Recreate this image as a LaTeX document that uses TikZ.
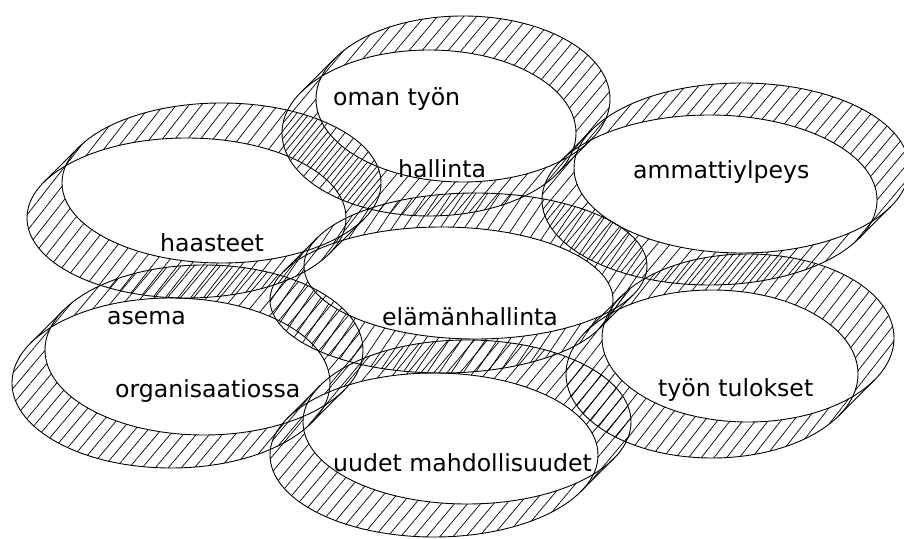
\documentclass[tikz,border=0pt]{standalone}
\usepackage{fontspec}
\setmainfont{DejaVu Sans}
\usetikzlibrary{patterns.meta}
\tikzset{
  ringline/.style={line width=0.9pt, black},
  lbl/.style={anchor=base west, inner sep=0pt, font=\fontsize{23.6}{28}\selectfont}
}
% #1 cx, #2 cy (pixels, y downward), #3 a, #4 b, #5 offset d, #6 hatch options
\newcommand\hring[6]{%
  \pgfmathsetmacro\rcx{#1}%
  \pgfmathsetmacro\rcy{538-#2}%
  \pgfmathsetmacro\ral{atan(#4/#3)}%
  \pgfmathsetmacro\ralb{180-\ral}%
  \pgfmathsetmacro\ralc{360-\ral}%
  \pgfmathsetmacro\ralm{-\ral}%
  \pgfmathsetmacro\rRp{sqrt((#3/100)^2+(#4/100)^2)/((#3/100)*(#4/100))}%
  \pgfmathsetmacro\rdel{acos(#5*\rRp/200)}%
  \pgfmathsetmacro\rphi{atan(#3/#4)}%
  \pgfmathsetmacro\rta{\rphi-\rdel}%
  \pgfmathsetmacro\rtb{\rphi+\rdel}%
  \pgfmathsetmacro\rtc{\rta+180}%
  \pgfmathsetmacro\rtd{\rtb+180}%
  \pgfmathsetmacro\rpx{\rcx+#3*cos(\ral)}%
  \pgfmathsetmacro\rpy{\rcy-#4*sin(\ral)}%
  \pgfmathsetmacro\rqx{\rcx-#3*cos(\ral)}%
  \pgfmathsetmacro\rqy{\rcy+#4*sin(\ral)}%
  \pgfmathsetmacro\rlx{\rcx+#3*cos(\rta)}%
  \pgfmathsetmacro\rly{\rcy+#4*sin(\rta)}%
  \pgfmathsetmacro\rbx{\rcx+#5}%
  \pgfmathsetmacro\rby{\rcy+#5}%
  \fill[pattern={Lines[#6]}, even odd rule]
    (\rpx,\rpy) -- ++(#5,#5)
    arc[start angle=\ralm, end angle=\ralb, x radius=#3, y radius=#4]
    -- ++(-#5,-#5)
    arc[start angle=\ralb, end angle=\ralc, x radius=#3, y radius=#4] -- cycle
    (\rlx,\rly)
    arc[start angle=\rta, end angle=\rtb, x radius=#3, y radius=#4]
    arc[start angle=\rtc, end angle=\rtd, x radius=#3, y radius=#4] -- cycle;
  \draw[ringline] (\rcx,\rcy) ellipse[x radius=#3, y radius=#4];
  \draw[ringline] (\rbx,\rby) ellipse[x radius=#3, y radius=#4];
  \draw[ringline] (\rpx,\rpy) -- ++(#5,#5);
  \draw[ringline] (\rqx,\rqy) -- ++(#5,#5);
}
\begin{document}
\begin{tikzpicture}[x=1pt,y=1pt]
\useasboundingbox (0,0) rectangle (904,538);
\fill[white] (0,0) rectangle (904,538);
\hring{429}{133}{147}{83}{34}{angle=50,distance=10pt,line width=0.7pt}
\hring{186.5}{218}{159.5}{80}{35}{angle=52,distance=10pt,line width=0.7pt,xshift=3pt}
\hring{709.5}{200}{167.5}{85}{32}{angle=50,distance=10pt,line width=0.7pt,xshift=6pt}
\hring{441.5}{300}{171.5}{73}{34}{angle=56,distance=10pt,line width=0.7pt,xshift=2pt}
\hring{171}{383}{159}{85}{33}{angle=50,distance=10pt,line width=0.7pt,xshift=5pt}
\hring{434}{455}{164}{82}{33}{angle=50,distance=10pt,line width=0.7pt,xshift=8pt}
\hring{712}{374}{146}{84}{36}{angle=52,distance=10pt,line width=0.7pt,xshift=4pt}
\node[lbl] (t1) at (333,{538-106}) {oman työn};
\node[lbl] (t2) at (398,{538-178}) {hallinta};
\node[lbl] (t3) at (633,{538-179}) {ammattiylpeys};
\node[lbl] (t4) at (160,{538-252}) {haasteet};
\node[lbl] (t5) at (382,{538-326}) {elämänhallinta};
\node[lbl] (t6) at (107,{538-325}) {asema};
\node[lbl] (t7) at (115,{538-398}) {organisaatiossa};
\node[lbl] (t8) at (333,{538-471}) {uudet mahdollisuudet};
\node[lbl] (t9) at (658,{538-397}) {työn tulokset};
\end{tikzpicture}
\end{document}
